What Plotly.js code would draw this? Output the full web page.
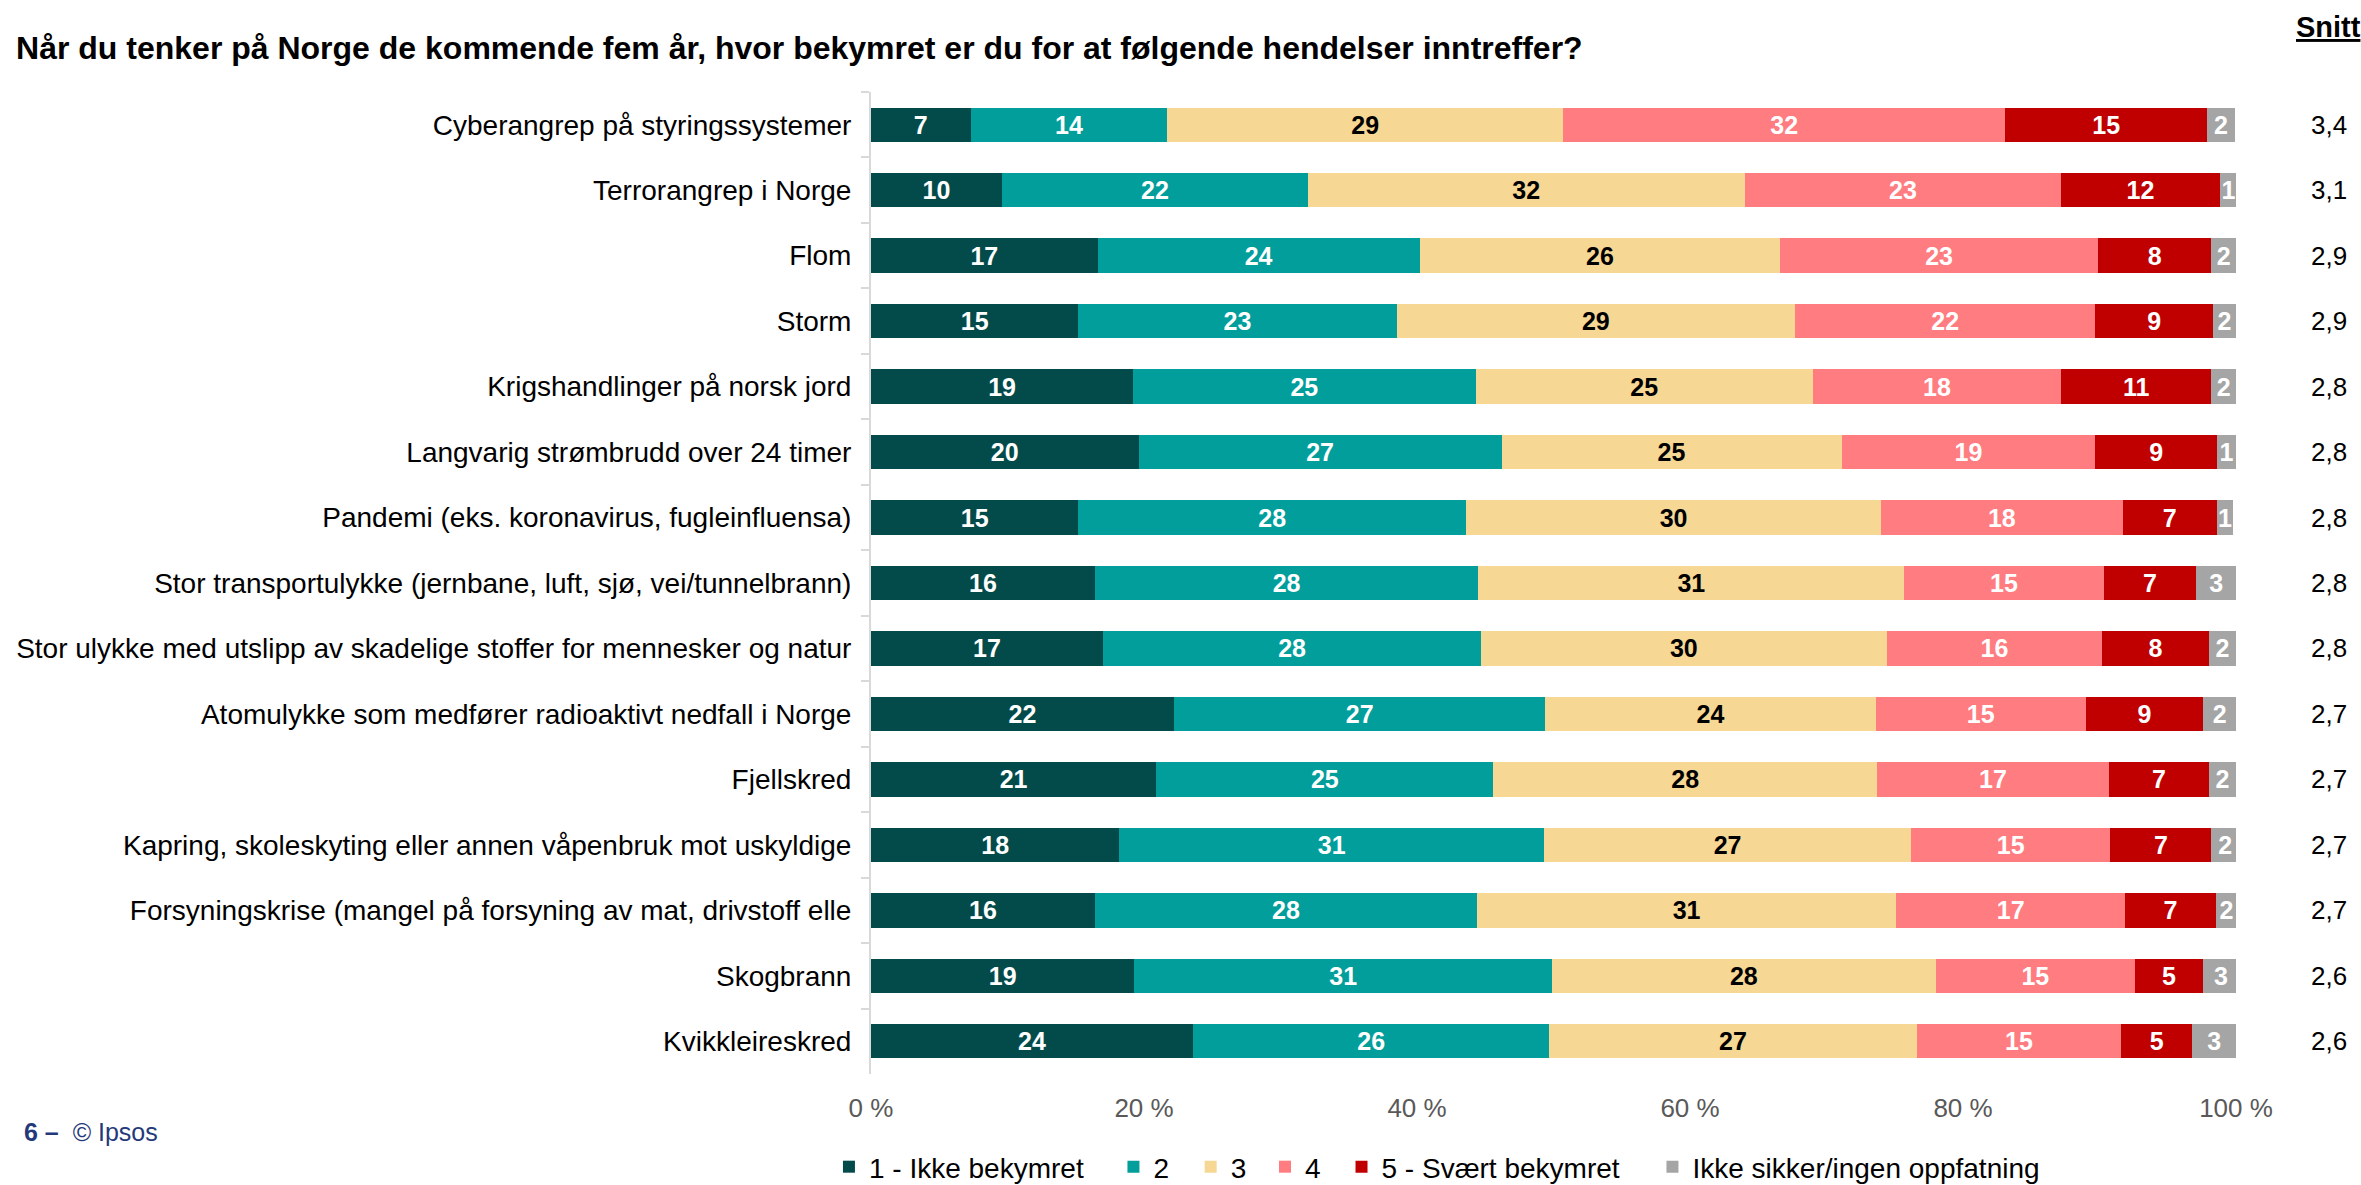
<!DOCTYPE html>
<html>
<head>
<meta charset="utf-8">
<script src="https://cdn.plot.ly/plotly-3.0.1.min.js"></script>
<style>
  body { margin: 0; background: #fff; }
  #graph { width: 2361px; height: 1185px; }
</style>
</head>
<body>
<div id="graph"></div>
<script>
const categories = [
  'Cyberangrep på styringssystemer',
  'Terrorangrep i Norge',
  'Flom',
  'Storm',
  'Krigshandlinger på norsk jord',
  'Langvarig strømbrudd over 24 timer',
  'Pandemi (eks. koronavirus, fugleinfluensa)',
  'Stor transportulykke (jernbane, luft, sjø, vei/tunnelbrann)',
  'Stor ulykke med utslipp av skadelige stoffer for mennesker og natur',
  'Atomulykke som medfører radioaktivt nedfall i Norge',
  'Fjellskred',
  'Kapring, skoleskyting eller annen våpenbruk mot uskyldige',
  'Forsyningskrise (mangel på forsyning av mat, drivstoff elle',
  'Skogbrann',
  'Kvikkleireskred'
];

const seriesNames = ['1 - Ikke bekymret', '2', '3', '4', '5 - Svært bekymret', 'Ikke sikker/ingen oppfatning'];

// percent per answer
const ikkeBekymret = [7.3, 9.6, 16.6, 15.2, 19.2, 19.6, 15.2, 16.4, 17.0, 22.2, 20.9, 18.2, 16.4, 19.3, 23.6];
const svar2 = [14.4, 22.4, 23.6, 23.3, 25.1, 26.6, 28.4, 28.1, 27.7, 27.2, 24.7, 31.1, 28.0, 30.6, 26.1];
const svar3 = [29.0, 32.0, 26.4, 29.2, 24.7, 24.9, 30.4, 31.2, 29.7, 24.2, 28.1, 26.9, 30.7, 28.1, 26.9];
const svar4 = [32.4, 23.2, 23.3, 22.0, 18.2, 18.6, 17.7, 14.6, 15.8, 15.4, 17.0, 14.6, 16.8, 14.6, 15.0];
const svaertBekymret = [14.8, 11.6, 8.3, 8.6, 11.0, 8.9, 6.9, 6.8, 7.8, 8.6, 7.3, 7.4, 6.6, 5.0, 5.2];
const ikkeSikker = [2.0, 1.3, 1.8, 1.7, 1.8, 1.4, 1.2, 2.9, 2.0, 2.4, 2.0, 2.0, 1.6, 2.6, 3.2];

const snitt = [3.4, 3.1, 2.9, 2.9, 2.8, 2.8, 2.8, 2.8, 2.8, 2.7, 2.7, 2.7, 2.7, 2.6, 2.6];

const colors = ['#034b4b', '#029e9b', '#f6d794', '#ff7c80', '#c00000', '#a5a5a5'];
const labelColors = ['#ffffff', '#ffffff', '#000000', '#ffffff', '#ffffff', '#ffffff'];
const FONT = 'Liberation Sans, Arial, sans-serif';

// one legend per series so the entries sit where the original has them
const legendX = [0.3511, 0.4716, 0.5043, 0.5358, 0.5682, 0.6999];

const values = [ikkeBekymret, svar2, svar3, svar4, svaertBekymret, ikkeSikker];

const traces = values.map((vals, i) => ({
  type: 'bar',
  orientation: 'h',
  name: seriesNames[i],
  legend: i === 0 ? 'legend' : 'legend' + (i + 1),
  y: categories,
  x: vals,
  marker: { color: colors[i] },
  texttemplate: '%{x:.0f}',
  textposition: 'inside',
  insidetextanchor: 'middle',
  textangle: 0,
  constraintext: 'none',
  textfont: { family: FONT, size: 25, color: labelColors[i], weight: 'bold' },
  hoverinfo: 'skip'
}));

// snitt column on the right
const annotations = snitt.map((v, i) => ({
  xref: 'paper', yref: 'y',
  x: 1.068, y: categories[i],
  text: v.toFixed(1).replace('.', ','),
  showarrow: false,
  xanchor: 'center', yanchor: 'middle',
  font: { family: FONT, size: 26, color: '#000000' }
}));

annotations.push({
  xref: 'paper', yref: 'paper',
  x: 1.068, y: 1.066,
  text: '<b><u>Snitt</u></b>',
  showarrow: false,
  xanchor: 'center', yanchor: 'middle',
  font: { family: FONT, size: 29, color: '#000000' }
});

annotations.push({
  xref: 'paper', yref: 'paper',
  x: -0.622, y: -0.059,
  text: '<b>6 –</b>  © Ipsos',
  showarrow: false,
  xanchor: 'left', yanchor: 'middle',
  font: { family: FONT, size: 25, color: '#25397a' }
});

const layout = {
  width: 2361,
  height: 1185,
  barmode: 'stack',
  bargap: 0.475,
  paper_bgcolor: '#ffffff',
  plot_bgcolor: '#ffffff',
  margin: { l: 871, r: 125, t: 92, b: 111 },
  title: {
    text: '<b>Når du tenker på Norge de kommende fem år, hvor bekymret er du for at følgende hendelser inntreffer?</b>',
    xref: 'container', yref: 'container',
    x: 0.0068, xanchor: 'left',
    y: 0.960, yanchor: 'middle',
    font: { family: FONT, size: 32, color: '#000000' }
  },
  xaxis: {
    range: [0, 100],
    dtick: 20,
    ticksuffix: ' %',
    showgrid: false,
    zeroline: false,
    showline: false,
    ticks: '',
    automargin: false,
    ticklabelstandoff: 16,
    tickfont: { family: FONT, size: 26, color: '#595959' }
  },
  yaxis: {
    type: 'category',
    autorange: 'reversed',
    automargin: false,
    showline: true,
    linecolor: '#d9d9d9',
    linewidth: 2,
    ticks: 'outside',
    tickson: 'boundaries',
    ticklen: 8,
    tickcolor: '#d9d9d9',
    tickwidth: 2,
    ticklabelstandoff: 12,
    showgrid: false,
    tickfont: { family: FONT, size: 28, color: '#000000' }
  },
  uniformtext: { mode: 'show', minsize: 25 },
  annotations: annotations,
  showlegend: true
};

legendX.forEach((x, i) => {
  layout[i === 0 ? 'legend' : 'legend' + (i + 1)] = {
    orientation: 'h',
    xref: 'container', yref: 'container',
    x: x, xanchor: 'left',
    y: 0.0152, yanchor: 'middle',
    font: { family: FONT, size: 28, color: '#000000' },
    itemwidth: 30
  };
});

Plotly.newPlot('graph', traces, layout, { displayModeBar: false, staticPlot: true });
</script>
</body>
</html>
